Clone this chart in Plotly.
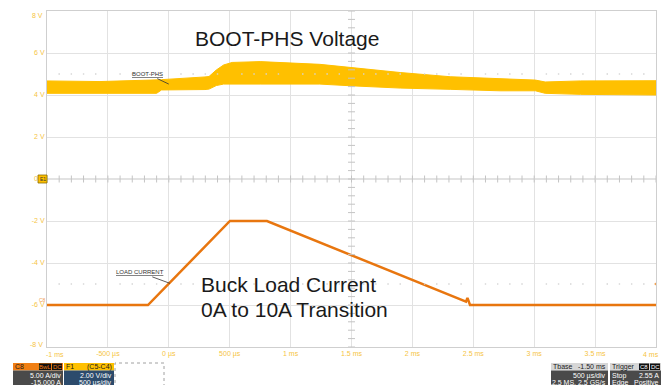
import numpy as np
import plotly.graph_objects as go

# ---- BOOT-PHS switching envelope (time in ms, volts) ----
boot_t = [-1.0, -0.565, -0.154, -0.10, -0.06, 0.297, 0.33, 0.39, 0.45, 0.52,
          0.75, 1.24, 1.49, 1.90, 2.31, 2.72, 3.01, 3.09, 3.38, 4.0]
boot_top = [4.67, 4.64, 4.71, 4.72, 4.73, 4.86, 4.88, 5.19, 5.43, 5.55,
            5.59, 5.46, 5.30, 5.07, 4.87, 4.76, 4.71, 4.62, 4.67, 4.68]
boot_bot = [4.08, 4.08, 4.08, 4.08, 4.24, 4.26, 4.28, 4.45, 4.52, 4.52,
            4.52, 4.52, 4.44, 4.33, 4.27, 4.20, 4.20, 4.08, 4.03, 4.00]

# ---- Buck load current (time in ms, amps) ----
cur_t = [-1.0, -0.171, 0.502, 0.806, 2.44, 2.452, 2.473, 4.0]
cur_a = [0.0, 0.0, 10.0, 10.0, 0.39, 0.85, 0.0, 0.0]

# Channel C8 scaling: 5 A/div, -15 A offset, 2 V per grid division
CUR_SCALE = 5.0
CUR_OFFSET = -15.0
DIV = 2.0
cur_y = [(a + CUR_OFFSET) / CUR_SCALE * DIV for a in cur_a]

# ---- Axis ticks ----
x_ticks = [-1.0, -0.5, 0.0, 0.5, 1.0, 1.5, 2.0, 2.5, 3.0, 3.5, 4.0]
x_labels = ["-1 ms", "-500 µs", "0 µs", "500 µs", "1 ms", "1.5 ms",
            "2 ms", "2.5 ms", "3 ms", "3.5 ms", "4 ms"]
y_ticks = [8, 6, 4, 2, 0, -2, -4, -6, -8]
y_labels = ["8 V", "6 V", "4 V", "2 V", "0 V", "-2 V", "-4 V", "-6 V", "-8 V"]

GOLD = "#FFC000"
ORANGE = "#E8760F"
TICK_COL = "#F6C443"
GRID = "#E2E2E2"
CENTER = "#C4C4C4"
FONT = "Liberation Sans, Arial, sans-serif"

L, R, T, B = 47, 5, 11, 38
W, H = 661, 385
PW, PH = W - L - R, H - T - B


def px(x):
    return (x - L) / PW


def py(y):
    return (H - B - y) / PH


fig = go.Figure()

# BOOT-PHS band drawn as a filled envelope
fig.add_trace(go.Scatter(
    x=boot_t + boot_t[::-1], y=boot_top + boot_bot[::-1],
    fill="toself", fillcolor=GOLD, line=dict(color=GOLD, width=1),
    mode="lines", hoverinfo="skip", showlegend=False))

# Load current trace
fig.add_trace(go.Scatter(
    x=cur_t, y=cur_y, mode="lines", line=dict(color=ORANGE, width=2.5),
    showlegend=False))

# Minor tick marks on the centre cross-hair
minor_x = np.round(np.arange(-1.0, 4.0001, 0.1), 3)
minor_y = np.round(np.arange(-8.0, 8.0001, 0.4), 3)
fig.add_trace(go.Scatter(
    x=minor_x, y=np.zeros_like(minor_x), mode="markers",
    marker=dict(symbol="line-ns", size=5, line=dict(color=CENTER, width=1)),
    hoverinfo="skip", showlegend=False))
fig.add_trace(go.Scatter(
    x=np.full_like(minor_y, 1.5), y=minor_y, mode="markers",
    marker=dict(symbol="line-ew", size=5, line=dict(color=CENTER, width=1)),
    hoverinfo="skip", showlegend=False))

# Dotted reference rows at +/-5 V
dots_x = [v for v in minor_x if abs(v * 2 - round(v * 2)) > 1e-6]
for lvl in (5, -5):
    fig.add_trace(go.Scatter(
        x=dots_x, y=[lvl] * len(dots_x), mode="markers",
        marker=dict(symbol="square", size=1.4, color="#D4D4D4"),
        hoverinfo="skip", showlegend=False))

# Trigger position marker and right-edge level marker
fig.add_trace(go.Scatter(
    x=[0.0], y=[-8.05], mode="markers", cliponaxis=False,
    marker=dict(symbol="triangle-up", size=6, color=ORANGE),
    hoverinfo="skip", showlegend=False))
fig.add_trace(go.Scatter(
    x=[4.0], y=[-5.0], mode="markers", cliponaxis=False,
    marker=dict(symbol="triangle-left", size=4, color="#F0A050"),
    hoverinfo="skip", showlegend=False))

shapes = [
    dict(type="line", xref="x", yref="y", x0=-1, x1=4, y0=0, y1=0,
         line=dict(color=CENTER, width=1), layer="below"),
    dict(type="line", xref="x", yref="y", x0=1.5, x1=1.5, y0=-8, y1=8,
         line=dict(color=CENTER, width=1), layer="below"),
]

annotations = []

# End tick labels are nudged inward so they stay inside the frame
tick_font = dict(family=FONT, size=7, color=TICK_COL)
annotations.append(dict(text=x_labels[0], x=x_ticks[0], y=0, xref="x", yref="paper",
                        xanchor="center", yanchor="top", xshift=8, yshift=-2,
                        showarrow=False, font=tick_font))
annotations.append(dict(text=x_labels[-1], x=x_ticks[-1], y=0, xref="x", yref="paper",
                        xanchor="center", yanchor="top", xshift=-5, yshift=-2,
                        showarrow=False, font=tick_font))
annotations.append(dict(text=y_labels[0], x=0, y=y_ticks[0], xref="paper", yref="y",
                        xanchor="right", yanchor="middle", xshift=-2, yshift=-4,
                        showarrow=False, font=tick_font))
annotations.append(dict(text=y_labels[-1], x=0, y=y_ticks[-1], xref="paper", yref="y",
                        xanchor="right", yanchor="middle", xshift=-2, yshift=3,
                        showarrow=False, font=tick_font))
x_text = [""] + x_labels[1:-1] + [""]
y_text = [""] + y_labels[1:-1] + [""]

# Large callouts
big = dict(family=FONT, size=21, color="#1a1a1a")
annotations.append(dict(text="BOOT-PHS Voltage", xref="paper", yref="paper",
                        x=px(193), y=py(38), xanchor="left", yanchor="middle",
                        showarrow=False, font=big))
annotations.append(dict(text="Buck Load Current", xref="paper", yref="paper",
                        x=px(199), y=py(284.5), xanchor="left", yanchor="middle",
                        showarrow=False, font=big))
annotations.append(dict(text="0A to 10A Transition", xref="paper", yref="paper",
                        x=px(199), y=py(309.5), xanchor="left", yanchor="middle",
                        showarrow=False, font=big))

# Small trace labels with leader lines
annotations.append(dict(text="<u>BOOT-PHS</u>", x=0.0, y=4.52, xref="x", yref="y",
                        ax=-21, ay=-10, showarrow=True, arrowhead=0, arrowwidth=0.8,
                        arrowcolor="#333333", standoff=0,
                        font=dict(family=FONT, size=6, color="#333333")))
annotations.append(dict(text="<u>LOAD CURRENT</u>", x=0.01, y=-4.97, xref="x", yref="y",
                        ax=-30, ay=-11, showarrow=True, arrowhead=0, arrowwidth=0.8,
                        arrowcolor="#333333", standoff=0,
                        font=dict(family=FONT, size=6, color="#333333")))

# Channel badges on the left edge
shapes.append(dict(type="rect", xref="paper", yref="paper",
                   x0=px(38), x1=px(47), y0=py(183), y1=py(175),
                   fillcolor=GOLD, line=dict(color="#8a6d00", width=0.8)))
annotations.append(dict(text="E1", xref="paper", yref="paper", x=px(42.5), y=py(179),
                        xanchor="center", yanchor="middle", borderpad=0,
                        showarrow=False, font=dict(family=FONT, size=5, color="#333333")))
annotations.append(dict(text="C8", xref="paper", yref="paper", x=px(42), y=py(299.5),
                        xanchor="center", yanchor="middle", borderpad=0,
                        showarrow=False, font=dict(family=FONT, size=5, color="#F0A050")))


def info_box(x0, x1, head_fill, head_col, body_fill, head_l, head_r, body_lines,
             badges=None, badge_col="#ffffff"):
    y_top, y_mid, y_bot = 363, 370.5, 392
    shapes.append(dict(type="rect", xref="paper", yref="paper",
                       x0=px(x0), x1=px(x1), y0=py(y_mid), y1=py(y_top),
                       fillcolor=head_fill, line=dict(width=0)))
    shapes.append(dict(type="rect", xref="paper", yref="paper",
                       x0=px(x0), x1=px(x1), y0=py(y_bot), y1=py(y_mid),
                       fillcolor=body_fill, line=dict(width=0)))
    hf = dict(family=FONT, size=7, color=head_col)
    annotations.append(dict(text=head_l, xref="paper", yref="paper", x=px(x0 + 1),
                            y=py(366.8), xanchor="left", yanchor="middle", showarrow=False,
                            borderpad=0, font=hf))
    if head_r:
        annotations.append(dict(text=head_r, xref="paper", yref="paper", x=px(x1 - 1),
                                y=py(366.8), xanchor="right", yanchor="middle", showarrow=False,
                                borderpad=0, font=hf))
    for bx0, bx1, btxt in (badges or []):
        shapes.append(dict(type="rect", xref="paper", yref="paper",
                           x0=px(bx0), x1=px(bx1), y0=py(370), y1=py(363.5),
                           fillcolor="#111111", line=dict(width=0)))
        annotations.append(dict(text=btxt, xref="paper", yref="paper", x=px((bx0 + bx1) / 2),
                                y=py(366.8), xanchor="center", yanchor="middle", showarrow=False,
                                borderpad=0, font=dict(family=FONT, size=6, color=badge_col)))
    bf = dict(family=FONT, size=7, color="#ffffff")
    for i, (tl, tr) in enumerate(body_lines):
        yy = 375.5 + 7 * i
        if tl:
            annotations.append(dict(text=tl, xref="paper", yref="paper", x=px(x0 + 1),
                                    y=py(yy), xanchor="left", yanchor="middle", showarrow=False,
                                    borderpad=0, font=bf))
        if tr:
            annotations.append(dict(text=tr, xref="paper", yref="paper", x=px(x1 - 1),
                                    y=py(yy), xanchor="right", yanchor="middle", showarrow=False,
                                    borderpad=0, font=bf))


info_box(13, 63, "#F07F14", "#1a1a1a", "#4A4A4A", "C8", None,
         [(None, "5.00 A/div"), (None, "-15.000 A")],
         badges=[(39, 51, "BwL"), (52, 62, "DC")], badge_col="#F07F14")
info_box(64, 114, GOLD, "#1a1a1a", "#2C4B6C", "F1", "(C5-C4)",
         [(None, "2.00 V/div"), (None, "500 µs/div")])
shapes.append(dict(type="rect", xref="paper", yref="paper",
                   x0=px(115), x1=px(164), y0=py(392), y1=py(363),
                   fillcolor="rgba(0,0,0,0)", line=dict(color="#A0A0A0", width=1, dash="dot")))
info_box(551, 608, "#D6D6D6", "#1a1a1a", "#4A4A4A", "Tbase", "-1.50 ms",
         [(None, "500 µs/div"), (None, "12.5 MS, 2.5 GS/s")])
info_box(610, 661, "#D6D6D6", "#1a1a1a", "#4A4A4A", "Trigger", None,
         [("Stop", "2.55 A"), ("Edge", "Positive")],
         badges=[(639, 649, "C8"), (650, 660, "DC")])

fig.update_layout(
    width=W, height=H,
    margin=dict(l=L, r=R, t=T, b=B),
    paper_bgcolor="white", plot_bgcolor="white",
    showlegend=False,
    shapes=shapes, annotations=annotations,
    xaxis=dict(range=[-1, 4], tickvals=x_ticks, ticktext=x_text,
               showgrid=True, gridcolor=GRID, gridwidth=1, zeroline=False,
               showline=True, linecolor="#CFCFCF", linewidth=1, mirror=True,
               tickfont=tick_font, ticks=""),
    yaxis=dict(range=[-8, 8], tickvals=y_ticks, ticktext=y_text,
               showgrid=True, gridcolor=GRID, gridwidth=1, zeroline=False,
               showline=True, linecolor="#CFCFCF", linewidth=1, mirror=True,
               tickfont=tick_font, ticks=""),
)

fig.write_html("out.html")
